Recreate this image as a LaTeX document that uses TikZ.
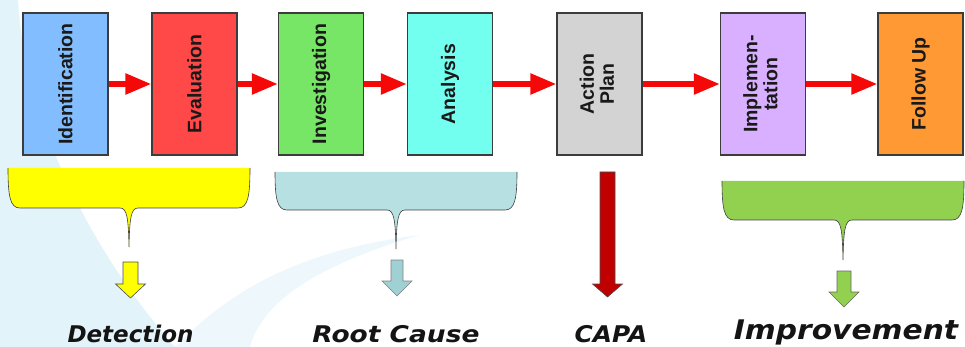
\documentclass[tikz,border=0pt]{standalone}
\usepackage{fontspec}
\setmainfont{Liberation Sans}
\newfontfamily\labfont{DejaVu Sans}
\usetikzlibrary{arrows.meta}
\definecolor{cIdent}{RGB}{130,190,255}
\definecolor{cEval}{RGB}{255,72,72}
\definecolor{cInv}{RGB}{119,230,102}
\definecolor{cAna}{RGB}{115,255,240}
\definecolor{cAct}{RGB}{211,211,211}
\definecolor{cImp}{RGB}{216,176,255}
\definecolor{cFol}{RGB}{255,153,51}
\definecolor{cRed}{RGB}{245,8,8}
\definecolor{cBord}{RGB}{60,60,60}
\definecolor{cYel}{RGB}{255,255,0}
\definecolor{cRoot}{RGB}{183,224,227}
\definecolor{cRootA}{RGB}{158,208,212}
\definecolor{cCapa}{RGB}{192,0,0}
\definecolor{cGreen}{RGB}{146,208,80}
\definecolor{cBg}{RGB}{226,244,250}
\newcommand{\bracefill}[7]{% x1 x2 top bot tipx tipy color
  \fill[#7] (#1,#3) .. controls (#1,#4-12) and (#1+2,#4) .. (#1+12,#4)
    -- (#5-9,#4) .. controls (#5-2,#4) and (#5-0.6,#4+10) .. (#5,#6)
    .. controls (#5+0.6,#4+10) and (#5+2,#4) .. (#5+9,#4)
    -- (#2-12,#4) .. controls (#2-2,#4) and (#2,#4-12) .. (#2,#3) -- cycle;
  \draw[braceline] (#1,#3) .. controls (#1,#4-12) and (#1+2,#4) .. (#1+12,#4)
    -- (#5-9,#4) .. controls (#5-2,#4) and (#5-0.6,#4+10) .. (#5,#6)
    .. controls (#5+0.6,#4+10) and (#5+2,#4) .. (#5+9,#4)
    -- (#2-12,#4) .. controls (#2-2,#4) and (#2,#4-12) .. (#2,#3);
}
\newcommand{\downarrowshape}[8]{% cx halfshaft halfhead top headstart tip fill draw
  \filldraw[fill=#7,draw=#8,line width=0.6pt] (#1-#2,#4) -- (#1+#2,#4) -- (#1+#2,#5) -- (#1+#3,#5)
    -- (#1,#6) -- (#1-#3,#5) -- (#1-#2,#5) -- cycle;
}
\begin{document}
\begin{tikzpicture}[x=1pt,y=-1pt,
  stepbox/.style={draw=cBord,line width=1.3pt,minimum width=85pt,minimum height=142pt,inner sep=0pt,
    font=\fontsize{19.5}{22}\selectfont\bfseries,text=black!90},
  redarrow/.style={draw=cRed,line width=5.5pt,-{Triangle[length=26pt,width=20pt]}},
  braceline/.style={draw=black!75,line width=0.6pt},
  lab/.style={anchor=base,font=\labfont\fontsize{23}{26}\selectfont\bfseries\itshape,text=black!92}]
\useasboundingbox (0,0) rectangle (965,347);
% faint background swooshes
\fill[cBg] (0,0) -- (18,0) .. controls (25,120) and (90,250) .. (175,347) -- (0,347) -- cycle;
\fill[cBg!60] (175,347) .. controls (230,290) and (300,250) .. (420,235) .. controls (300,270) and (260,310) .. (250,347) -- cycle;
% boxes
\node[stepbox,fill=cIdent] (b1) at (65.5,84) {\rotatebox{90}{Identification}};
\node[stepbox,fill=cEval] (b2) at (194.5,84) {\rotatebox{90}{Evaluation}};
\node[stepbox,fill=cInv] (b3) at (321,84) {\rotatebox{90}{Investigation}};
\node[stepbox,fill=cAna] (b4) at (450,84) {\rotatebox{90}{Analysis}};
\node[stepbox,fill=cAct] (b5) at (599.5,84) {\rotatebox{90}{\begin{tabular}{@{}c@{}}Action\\[-2pt]Plan\end{tabular}}};
\node[stepbox,fill=cImp] (b6) at (763,84) {\rotatebox{90}{\begin{tabular}{@{}c@{}}Implemen-\\[-2pt]tation\end{tabular}}};
\node[stepbox,fill=cFol] (b7) at (920.5,84) {\rotatebox{90}{Follow Up}};
% red arrows
\draw[redarrow] (b1.east) -- (b2.west);
\draw[redarrow] (b2.east) -- (b3.west);
\draw[redarrow] (b3.east) -- (b4.west);
\draw[redarrow] (b4.east) -- (b5.west);
\draw[redarrow] (b5.east) -- (b6.west);
\draw[redarrow] (b6.east) -- (b7.west);
% braces
\bracefill{8}{250}{168}{208}{129}{247}{cYel}
\bracefill{275}{517}{172}{210}{396}{249}{cRoot}
\bracefill{722}{964}{181}{220}{843}{260}{cGreen}
% down arrows
\downarrowshape{130.5}{7.5}{15}{262}{284}{298}{cYel}{black!70}
\downarrowshape{397}{6}{15}{260}{281}{296}{cRootA}{black!50}
\downarrowshape{607.5}{7.5}{15}{172}{284}{297}{cCapa}{black!70}
\downarrowshape{844}{7}{15}{271}{292}{307}{cGreen}{black!60}
% labels
\node[lab] (l1) at (130.5,342) {Detection};
\node[lab,xscale=1.15] (l2) at (396,342) {Root Cause};
\node[lab,xscale=1.08] (l3) at (611,342) {CAPA};
\node[lab,font=\labfont\fontsize{27}{30}\selectfont\bfseries\itshape,xscale=1.1] (l4) at (846,339) {Improvement};
\end{tikzpicture}
\end{document}
